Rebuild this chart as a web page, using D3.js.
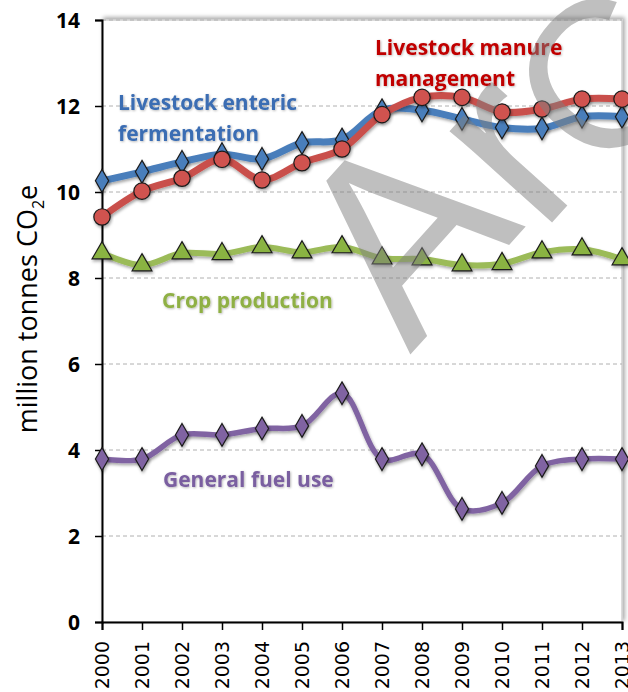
<!DOCTYPE html>
<html>
<head>
<meta charset="utf-8">
<script src="https://cdn.jsdelivr.net/npm/d3@7"></script>
<style>
  html, body { margin: 0; padding: 0; background: #ffffff; }
  svg { display: block; }
</style>
</head>
<body>
<svg id="chart" width="628" height="692"></svg>
<script>
// ---------------- DATA ----------------
const years = [2000, 2001, 2002, 2003, 2004, 2005, 2006, 2007, 2008, 2009, 2010, 2011, 2012, 2013];
const enteric = [10.26, 10.47, 10.70, 10.88, 10.77, 11.14, 11.22, 11.90, 11.90, 11.70, 11.50, 11.48, 11.75, 11.75];
const manure  = [9.42, 10.02, 10.32, 10.76, 10.28, 10.68, 11.00, 11.80, 12.20, 12.20, 11.86, 11.93, 12.16, 12.16];
const crop    = [8.58, 8.30, 8.58, 8.56, 8.72, 8.60, 8.72, 8.46, 8.44, 8.30, 8.33, 8.60, 8.67, 8.44];
const fuel    = [3.79, 3.79, 4.35, 4.35, 4.50, 4.56, 5.32, 3.79, 3.90, 2.63, 2.77, 3.63, 3.79, 3.79];
const yTicks  = [0, 2, 4, 6, 8, 10, 12, 14];
const yTitle  = "million tonnes CO";
const labelEnteric = ["Livestock enteric", "fermentation"];
const labelManure  = ["Livestock manure", "management"];
const labelCrop    = ["Crop production"];
const labelFuel    = ["General fuel use"];
const watermarkLetters = ["A", "r", "C"];

// ---------------- LAYOUT ----------------
const svg = d3.select("#chart");
const x = d3.scaleLinear().domain([2000, 2013]).range([102, 622]);
const y = d3.scaleLinear().domain([0, 14]).range([622, 20]);

const defs = svg.append("defs");
const sh = defs.append("filter").attr("id", "shadow").attr("x", "-20%").attr("y", "-20%").attr("width", "140%").attr("height", "160%");
sh.append("feDropShadow").attr("dx", 1).attr("dy", 2).attr("stdDeviation", 1.5).attr("flood-color", "#000").attr("flood-opacity", 0.35);
const frameSh = defs.append("filter").attr("id", "frameShadow").attr("x", "-5%").attr("y", "-5%").attr("width", "110%").attr("height", "110%");
frameSh.append("feDropShadow").attr("dx", 2).attr("dy", -2).attr("stdDeviation", 2).attr("flood-color", "#000").attr("flood-opacity", 0.35);
const glow = defs.append("filter").attr("id", "glow").attr("x", "-10%").attr("y", "-30%").attr("width", "120%").attr("height", "160%");
glow.append("feDropShadow").attr("dx", 0.8).attr("dy", 0.8).attr("stdDeviation", 0.8).attr("flood-color", "#000").attr("flood-opacity", 0.3);

// plot frame
svg.append("rect")
  .attr("x", x(2000)).attr("y", y(14))
  .attr("width", x(2013) - x(2000)).attr("height", y(0) - y(14))
  .attr("fill", "#fff").attr("stroke", "#d0d0d0").attr("stroke-width", 1.5)
  .attr("filter", "url(#frameShadow)");

// gridlines
svg.append("g").selectAll("line").data(yTicks.filter(d => d > 0)).join("line")
  .attr("x1", x(2000)).attr("x2", x(2013))
  .attr("y1", d => y(d)).attr("y2", d => y(d))
  .attr("stroke", "#b0b0b0").attr("stroke-width", 1).attr("stroke-dasharray", "4,3");

// axes
const yAxis = d3.axisLeft(y).tickValues(yTicks).tickSize(7).tickPadding(15).tickFormat(d3.format("d"));
const gy = svg.append("g").attr("transform", `translate(${x(2000)},0)`).call(yAxis);
gy.select(".domain").attr("stroke", "#000").attr("stroke-width", 2);
gy.selectAll(".tick line").attr("stroke", "#000").attr("stroke-width", 1.5);
gy.selectAll(".tick text")
  .attr("font-family", "Open Sans, sans-serif").attr("font-weight", "bold")
  .attr("font-size", 21).attr("fill", "#000").attr("dy", "0.36em");

const xAxis = d3.axisBottom(x).tickValues(years).tickSize(8).tickFormat(d3.format("d"));
const gx = svg.append("g").attr("transform", `translate(0,${y(0)})`).call(xAxis);
gx.select(".domain").attr("stroke", "#000").attr("stroke-width", 2);
gx.selectAll(".tick line").attr("stroke", "#000").attr("stroke-width", 1.5);
gx.selectAll(".tick text")
  .attr("font-family", "DejaVu Sans, sans-serif")
  .attr("font-size", 19).attr("fill", "#000")
  .attr("text-anchor", "end").attr("dy", "0.35em").attr("y", 0)
  .attr("transform", "translate(0,19) rotate(-90)");

// y title
const yt = svg.append("text")
  .attr("transform", `translate(37,309) rotate(-90)`)
  .attr("text-anchor", "middle")
  .attr("font-family", "Open Sans, sans-serif")
  .attr("font-size", 27).attr("fill", "#000");
yt.append("tspan").text(yTitle);
yt.append("tspan").attr("font-size", 16).attr("dy", 7).text("2");
yt.append("tspan").attr("dy", -7).text("e");

// ---------------- SERIES ----------------
const line = d3.line().x((d, i) => x(years[i])).y(d => y(d)).curve(d3.curveCatmullRom.alpha(0.5));

function series(values, color, width, markerType, markerFill, markerSize) {
  const g = svg.append("g");
  g.append("path").datum(values)
    .attr("d", line).attr("fill", "none")
    .attr("stroke", color).attr("stroke-width", width)
    .attr("stroke-linejoin", "round").attr("stroke-linecap", "round")
    .attr("filter", "url(#shadow)");
  g.selectAll("path.m").data(values).join("path").attr("class", "m")
    .attr("transform", (d, i) => `translate(${x(years[i])},${y(d)})`)
    .attr("d", d3.symbol().type(markerType).size(markerSize))
    .attr("fill", markerFill).attr("stroke", "#1a1a1a").attr("stroke-width", 1.2)
    .attr("filter", "url(#shadow)");
}

series(enteric, "#4a7ebb", 7, d3.symbolDiamond, "#4a7ebb", 150);
series(manure, "#c9504c", 7, d3.symbolCircle, "#d0534f", 210);
series(crop, "#9bbb59", 6, d3.symbolTriangle, "#8ab342", 170);
series(fuel, "#8064a2", 5.5, d3.symbolDiamond, "#8064a2", 150);

// ---------------- LABELS ----------------
function label(lines, x0, y0, color, lh) {
  const t = svg.append("text")
    .attr("font-family", "Open Sans, sans-serif").attr("font-weight", "bold")
    .attr("font-size", 21).attr("fill", color).attr("filter", "url(#glow)");
  lines.forEach((s, i) => t.append("tspan").attr("x", x0).attr("y", y0 + i * lh).text(s));
}
label(labelEnteric, 118, 110, "#3b6db3", 31);
label(labelManure, 375, 55, "#c00000", 31);
label(labelCrop, 162, 308, "#8fb044", 31);
label(labelFuel, 163, 487, "#7a5ea0", 31);

// ---------------- WATERMARK (semi-transparent, on top) ----------------
const wm = [
  { t: watermarkLetters[0], x: 410, y: 355, size: 260 },
  { t: watermarkLetters[1], x: 540, y: 236, size: 260 },
  { t: watermarkLetters[2], x: 604, y: 182, size: 210 }
];
svg.append("g").attr("opacity", 0.5).selectAll("text").data(wm).join("text")
  .attr("transform", d => `translate(${d.x},${d.y}) rotate(-48)`)
  .attr("font-family", "Liberation Sans, Arial, sans-serif")
  .attr("font-size", d => d.size)
  .attr("fill", "#808080")
  .text(d => d.t);
</script>
</body>
</html>
